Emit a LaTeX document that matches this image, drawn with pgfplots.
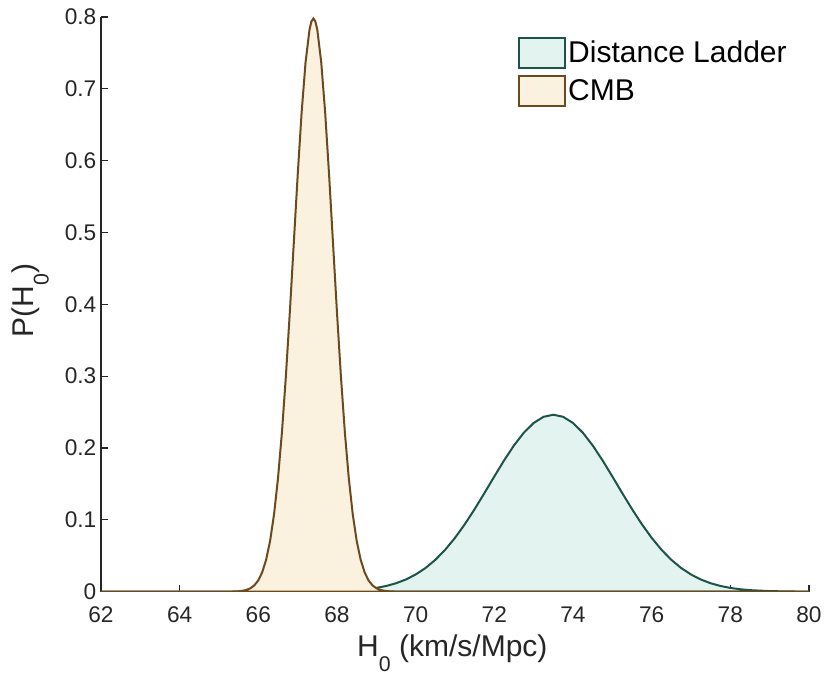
\documentclass[border=0pt]{standalone}
\usepackage{fontspec}
\setmainfont{Liberation Sans}
\usepackage{pgfplots}
\pgfplotsset{compat=1.18}
\definecolor{axgray}{RGB}{38,38,38}
\definecolor{cmbfill}{RGB}{250,241,223}
\definecolor{cmbedge}{RGB}{108,74,30}
\definecolor{dlfill}{RGB}{226,243,240}
\definecolor{dledge}{RGB}{28,84,74}
\newcommand{\sub}[1]{\raisebox{-0.5em}{\fontsize{16}{16}\selectfont #1}}
\begin{document}
\begin{tikzpicture}
\begin{axis}[
  name=ax,
  scale only axis,
  width=531pt, height=431pt,
  xmin=62, xmax=80, ymin=0, ymax=0.8,
  xtick={62,64,...,80},
  ytick={0,0.1,...,0.8},
  axis x line*=bottom, axis y line*=left,
  axis line style={axgray, line width=0.8pt, -},
  tick align=inside,
  major tick length=5pt,
  tick style={axgray, line width=0.8pt},
  /pgf/number format/assume math mode=true,
  ticklabel style={font=\fontsize{17}{19}\selectfont, text=axgray},
  xticklabel style={yshift=-8pt},
  xlabel={H\sub{0} (km/s/Mpc)},
  ylabel={P(H\sub{0})},
  label style={font=\fontsize{22.5}{25}\selectfont, text=axgray},
  xlabel style={yshift=-2pt, xshift=-2pt},
  ylabel style={yshift=5pt, xshift=3pt},
  legend cell align=left,
  legend style={draw=none, fill=none, at={(0.588,0.965)}, anchor=north west,
    font=\fontsize{22.5}{25}\selectfont, row sep=5pt, inner sep=0pt},
  legend image code/.code={\draw[#1, line width=1.5pt] (0pt,-11pt) rectangle (34.5pt,11pt);},
]
\addplot[draw=dledge, fill=dlfill, line width=1.5pt] coordinates {
(62,0) (67.0,0.00008) (67.5,0.00026) (68.0,0.00077) (68.5,0.00210) (68.75,0.00335)
(69.0,0.00520) (69.25,0.00789) (69.5,0.01168) (69.75,0.0169) (70.0,0.0239)
(70.25,0.0329) (70.5,0.0443) (70.75,0.0583) (71.0,0.0749) (71.25,0.0939)
(71.5,0.1150) (71.75,0.1374) (72.0,0.1604) (72.25,0.1829) (72.5,0.2036)
(72.75,0.2213) (73.0,0.2348) (73.25,0.2434) (73.5,0.2463) (73.75,0.2434)
(74.0,0.2348) (74.25,0.2213) (74.5,0.2036) (74.75,0.1829) (75.0,0.1604)
(75.25,0.1374) (75.5,0.1150) (75.75,0.0939) (76.0,0.0749) (76.25,0.0583)
(76.5,0.0443) (76.75,0.0329) (77.0,0.0239) (77.25,0.0169) (77.5,0.01168)
(77.75,0.00789) (78.0,0.00520) (78.25,0.00335) (78.5,0.00210) (79.0,0.00077)
(79.5,0.00026) (80,0.00008)
} \closedcycle;
\addlegendentry{Distance Ladder}
\addplot[draw=cmbedge, fill=cmbfill, line width=1.5pt] coordinates {
(62,0) (65.0,0.00001) (65.2,0.00005) (65.4,0.00027) (65.5,0.00058) (65.6,0.00122)
(65.7,0.00246) (65.8,0.00477) (65.9,0.00886) (66.0,0.0158) (66.1,0.0272)
(66.2,0.0448) (66.3,0.0709) (66.4,0.1080) (66.5,0.1579) (66.6,0.2218)
(66.7,0.2995) (66.8,0.3884) (66.9,0.4839) (67.0,0.5794) (67.1,0.6665)
(67.2,0.7365) (67.3,0.7821) (67.35,0.7939) (67.4,0.7979) (67.45,0.7939)
(67.5,0.7821) (67.6,0.7365)
(67.7,0.6665) (67.8,0.5794) (67.9,0.4839) (68.0,0.3884) (68.1,0.2995)
(68.2,0.2218) (68.3,0.1579) (68.4,0.1080) (68.5,0.0709) (68.6,0.0448)
(68.7,0.0272) (68.8,0.0158) (68.9,0.00886) (69.0,0.00477) (69.1,0.00246)
(69.2,0.00122) (69.3,0.00058) (69.4,0.00027) (69.6,0.00005) (69.8,0.00001)
(80,0)
} \closedcycle;
\addlegendentry{CMB}
\end{axis}
\pgfresetboundingbox
\path ([shift={(-75.75pt,-62.25pt)}]ax.south west) rectangle ([shift={(12.75pt,12.75pt)}]ax.north east);
\end{tikzpicture}
\end{document}
